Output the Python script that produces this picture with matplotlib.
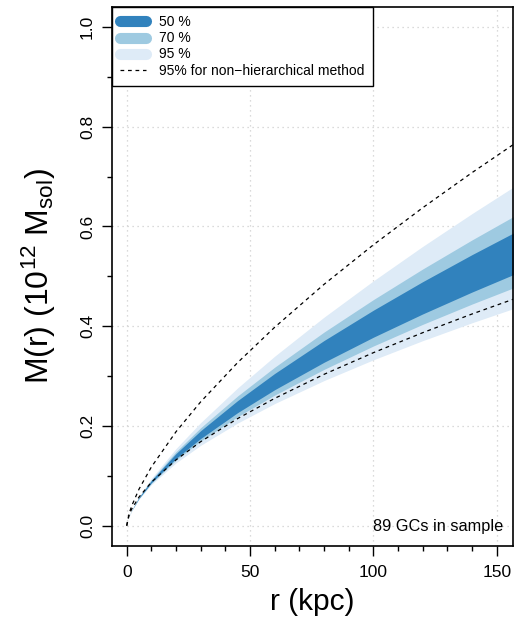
import matplotlib
matplotlib.use("Agg")
import matplotlib.pyplot as plt
from matplotlib.lines import Line2D
from matplotlib.ticker import MultipleLocator

plt.rcParams['font.family'] = ['Liberation Sans', 'DejaVu Sans']
plt.rcParams['mathtext.fontset'] = 'custom'
plt.rcParams['mathtext.rm'] = 'Liberation Sans'
plt.rcParams['mathtext.default'] = 'regular'

# radius grid (kpc) and enclosed mass quantiles (1e12 Msol)
r = [0, 1, 2, 5, 10, 20, 30, 45, 60, 80, 100, 120, 140, 160]
lo95 = [0, 0.0191, 0.0299, 0.0535, 0.0824, 0.1260, 0.1612, 0.2059, 0.2449, 0.2910, 0.3326, 0.3710, 0.4069, 0.4407]
hi95 = [0, 0.0196, 0.0312, 0.0585, 0.0949, 0.1548, 0.2068, 0.2764, 0.3399, 0.4181, 0.4909, 0.5600, 0.6258, 0.6892]
lo70 = [0, 0.0192, 0.0302, 0.0545, 0.0848, 0.1315, 0.1697, 0.2187, 0.2619, 0.3134, 0.3603, 0.4037, 0.4444, 0.4830]
hi70 = [0, 0.0195, 0.0310, 0.0574, 0.0922, 0.1484, 0.1965, 0.2603, 0.3178, 0.3882, 0.4533, 0.5147, 0.5730, 0.6288]
lo50 = [0, 0.0193, 0.0303, 0.0551, 0.0863, 0.1348, 0.1749, 0.2268, 0.2727, 0.3277, 0.3779, 0.4246, 0.4685, 0.5102]
hi50 = [0, 0.0194, 0.0308, 0.0568, 0.0906, 0.1447, 0.1906, 0.2510, 0.3053, 0.3713, 0.4321, 0.4893, 0.5435, 0.5952]
# 95% limits from the non-hierarchical fit
nh_lo = [0, 0.0219, 0.0332, 0.0575, 0.0872, 0.1321, 0.1685, 0.2149, 0.2553, 0.3035, 0.3469, 0.3870, 0.4245, 0.4599]
nh_hi = [0, 0.0246, 0.0394, 0.0734, 0.1177, 0.1885, 0.2484, 0.3272, 0.3979, 0.4839, 0.5631, 0.6375, 0.7079, 0.7752]

c50, c70, c95 = '#3182bd', '#9ecae1', '#deebf7'

fig = plt.figure(figsize=(5.14, 6.28), dpi=100)
ax = fig.add_axes([0.2173, 0.1311, 0.7798, 0.8578])

ax.fill_between(r, lo95, hi95, color=c95, lw=0)
ax.fill_between(r, lo70, hi70, color=c70, lw=0)
ax.fill_between(r, lo50, hi50, color=c50, lw=0)
ax.plot(r, nh_lo, color='black', lw=0.9, dashes=(3, 3))
ax.plot(r, nh_hi, color='black', lw=0.9, dashes=(3, 3))

ax.set_xlim(-6.08, 156.4)
ax.set_ylim(-0.04, 1.04)

ax.xaxis.set_minor_locator(MultipleLocator(10))
ax.yaxis.set_minor_locator(MultipleLocator(0.1))
ax.set_yticks([0, 0.2, 0.4, 0.6, 0.8, 1.0])
ax.set_yticklabels(['0.0', '0.2', '0.4', '0.6', '0.8', '1.0'], rotation=90, va='center')
ax.set_xticks([0, 50, 100, 150])
ax.tick_params(which='major', length=7, width=1, labelsize=12.5, pad=7)
ax.tick_params(which='minor', length=3.6, width=1)
ax.tick_params(axis='y', pad=5)

ax.grid(True, which='major', color='#cfcfcf', linestyle=(0, (1, 3)), lw=0.9)
ax.set_axisbelow(True)
for s in ax.spines.values():
    s.set_linewidth(1.2)

ax.set_xlabel('r (kpc)', fontsize=21.5, labelpad=6)
ax.set_ylabel('M(r) (10$^{12}$ M$_{sol}$)', fontsize=23, labelpad=16)

ax.text(0.976, 0.035, '89 GCs in sample', transform=ax.transAxes,
        ha='right', va='center', fontsize=11.8)

handles = [
    Line2D([], [], color=c50, lw=8, solid_capstyle='round'),
    Line2D([], [], color=c70, lw=8, solid_capstyle='round'),
    Line2D([], [], color=c95, lw=8, solid_capstyle='round'),
    Line2D([], [], color='black', lw=0.9, dashes=(3, 3)),
]
labels = ['50 %', '70 %', '95 %', '95% for non\u2212hierarchical method']
leg = ax.legend(handles, labels, loc='upper left', bbox_to_anchor=(0, 1),
                borderaxespad=0, fancybox=False, fontsize=10, handlelength=1.85,
                handletextpad=0.95, labelspacing=0.15, borderpad=0.6)
leg.get_frame().set_edgecolor('black')
leg.get_frame().set_linewidth(1.0)
leg.get_frame().set_alpha(1)

fig.savefig('out.png', dpi=100)
